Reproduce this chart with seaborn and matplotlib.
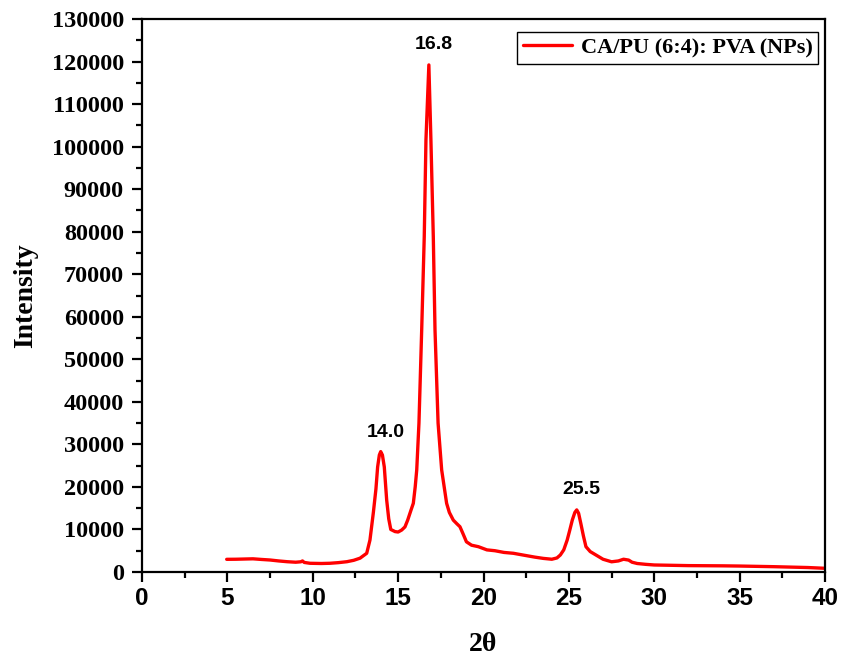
import numpy as np
import pandas as pd
import matplotlib
matplotlib.use("Agg")
import matplotlib.pyplot as plt
import seaborn as sns
from matplotlib.ticker import MultipleLocator, AutoMinorLocator

two_theta = [4.96, 5.5, 6.0, 6.5, 7.0, 7.5, 8.0, 8.5, 9.0, 9.3, 9.4, 9.5, 9.84, 10.5, 11.0,
             11.5, 12.0, 12.4, 12.77, 13.16, 13.35, 13.55, 13.7, 13.8, 13.9, 13.98, 14.08,
             14.19, 14.33, 14.45, 14.57, 14.82, 15.0, 15.21, 15.4, 15.56, 15.75, 15.89, 16.0,
             16.09, 16.22, 16.38, 16.53, 16.63, 16.8, 16.92, 17.06, 17.16, 17.34, 17.55,
             17.84, 18.0, 18.23, 18.45, 18.62, 18.8, 19.0, 19.3, 19.7, 20.2, 20.67, 21.2,
             21.75, 22.3, 23.0, 23.5, 24.0, 24.3, 24.5, 24.7, 24.9, 25.05, 25.2, 25.35,
             25.46, 25.57, 25.7, 25.85, 26.0, 26.25, 26.5, 27.0, 27.5, 27.9, 28.2, 28.5,
             28.7, 29.0, 29.5, 30.0, 32.0, 34.0, 35.0, 37.0, 39.0, 40.0]
intensity = [2980, 3000, 3050, 3100, 2950, 2820, 2600, 2420, 2300, 2400, 2600, 2250, 2050, 2000, 2050,
             2200, 2420, 2750, 3250, 4400, 7500, 14000, 19500, 24700, 27500, 28300, 27500,
             24700, 16900, 12500, 10000, 9500, 9400, 9870, 10600, 12200, 14500, 16150, 20000,
             24000, 35000, 56900, 78800, 101600, 119200, 101600, 78800, 56900, 35000, 24000,
             16150, 14000, 12200, 11300, 10650, 9000, 7100, 6300, 5950, 5200, 5000, 4600,
             4400, 4000, 3500, 3200, 3000, 3300, 4000, 5200, 7500, 9800, 12200, 14000,
             14600, 13800, 11400, 8500, 5950, 4800, 4200, 3000, 2400, 2600, 3000, 2800,
             2300, 2000, 1800, 1650, 1500, 1450, 1400, 1250, 1050, 870]

peak_labels = ["14.0", "16.8", "25.5"]
peak_label_x = [14.3, 17.08, 25.71]
peak_label_y = [30900, 122100, 17300]

series_name = "CA/PU (6:4): PVA (NPs)"

df = pd.DataFrame({"2θ": two_theta, "Intensity": intensity, "sample": series_name})

sns.set_theme(style="ticks")
plt.rcParams["font.family"] = ["Liberation Serif", "DejaVu Serif"]
plt.rcParams["text.color"] = "black"
plt.rcParams["axes.labelcolor"] = "black"

fig = plt.figure(figsize=(8.41, 6.60), dpi=100)
ax = fig.add_axes([142/841, 1 - 572/660, (825-142)/841, (572-19)/660])

sns.lineplot(data=df, x="2θ", y="Intensity", hue="sample", palette=["#ff0000"],
             linewidth=2.4, ax=ax, sort=False)

ax.set_xlim(0, 40)
ax.set_ylim(0, 130000)
ax.xaxis.set_major_locator(MultipleLocator(5))
ax.xaxis.set_minor_locator(AutoMinorLocator(2))
ax.yaxis.set_major_locator(MultipleLocator(10000))
ax.yaxis.set_minor_locator(AutoMinorLocator(2))

for s in ax.spines.values():
    s.set_linewidth(1.6)
    s.set_color("black")
ax.tick_params(axis="both", which="major", length=7, width=1.6, direction="out", colors="black")
ax.tick_params(axis="both", which="minor", length=4, width=1.6, direction="out", colors="black")
ax.tick_params(axis="y", which="major", pad=6)

for lab in ax.get_yticklabels():
    lab.set_fontfamily(["Liberation Serif", "DejaVu Serif"])
    lab.set_fontweight("bold")
    lab.set_fontsize(17.5)
for lab in ax.get_xticklabels():
    lab.set_fontfamily(["Liberation Sans Narrow", "Liberation Sans", "DejaVu Sans"])
    lab.set_fontweight("bold")
    lab.set_fontsize(17.5)

ax.set_xlabel("2θ", fontsize=20, fontweight="bold", color="black",
              family=["Liberation Serif", "DejaVu Serif"], labelpad=16)
ax.set_ylabel("Intensity", fontsize=20, fontweight="bold", color="black",
              family=["Liberation Serif", "DejaVu Serif"], labelpad=10)

for t, xx, yy in zip(peak_labels, peak_label_x, peak_label_y):
    ax.text(xx, yy, t, ha="center", va="bottom", fontsize=14, fontweight="bold",
            family=["Liberation Sans", "DejaVu Sans"], color="black")

leg = ax.legend(loc="upper right", bbox_to_anchor=(0.9898, 0.9765), borderaxespad=0,
                fancybox=False, edgecolor="black", framealpha=1, handlelength=2.2,
                handletextpad=0.4, borderpad=0.25,
                prop={"family": ["Liberation Serif", "DejaVu Serif"], "weight": "bold", "size": 16})
leg.get_frame().set_linewidth(1.0)
for txt in leg.get_texts():
    txt.set_color("black")

fig.savefig("out.png", dpi=100)
